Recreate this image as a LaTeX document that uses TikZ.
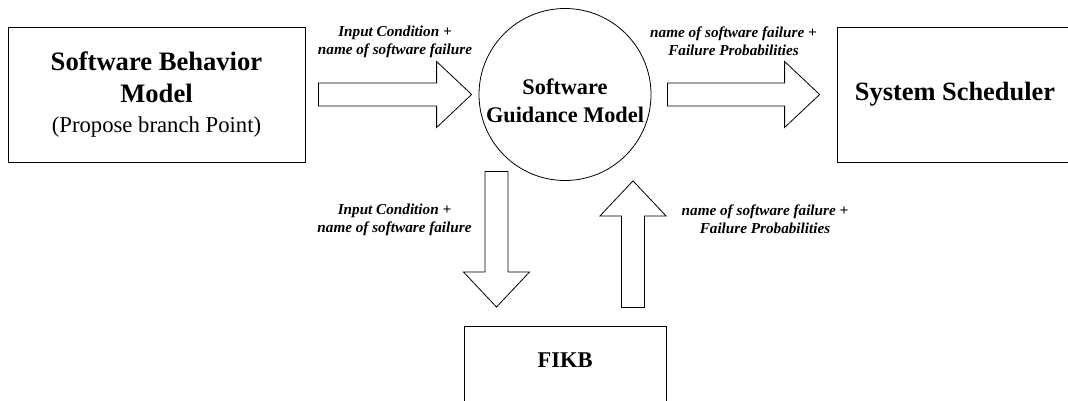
\documentclass[tikz,border=0pt]{standalone}
\usepackage{fontspec}
\setmainfont{Liberation Serif}
\usetikzlibrary{calc}

\tikzset{
  block/.style={draw, line width=0.8pt, inner sep=0pt, align=center},
  barrow/.style={draw, line width=0.8pt, fill=white, line join=miter},
  flowlabel/.style={font=\fontsize{15.2}{18}\selectfont\bfseries\itshape,
    align=center, inner sep=0pt}
}

% hollow block arrow from #1 (tail) to #2 (tip)
\newcommand{\blockarrow}[2]{%
  \coordinate (ahead) at ($(#2)!35pt!(#1)$);
  \draw [barrow] ($(#1)!11.5pt!90:(#2)$) -- ($(ahead)!11.5pt!90:(#2)$)
    -- ($(ahead)!33pt!90:(#2)$) -- (#2) -- ($(ahead)!33pt!-90:(#2)$)
    -- ($(ahead)!11.5pt!-90:(#2)$) -- ($(#1)!11.5pt!-90:(#2)$) -- cycle;}

\begin{document}
\begin{tikzpicture}[x=1pt, y=-1pt]
  \useasboundingbox (0,0) rectangle (1068,401);

  % Software behavior model
  \node [block, minimum width=297pt, minimum height=135pt,
    font=\fontsize{26.6}{30}\selectfont\bfseries] (sbm) at (156.5,94.5)
    {Software Behavior\\[2pt]Model\\\fontsize{22.7}{28}\selectfont\mdseries (Propose branch Point)};

  % Software guidance model
  \node [block, circle, minimum size=172pt, text height=57pt, text depth=0pt,
    font=\fontsize{22.3}{28}\selectfont\bfseries] (sgm) at (565,94.5)
    {Software\\Guidance Model};

  % System scheduler
  \node [block, minimum width=236pt, minimum height=135pt,
    font=\fontsize{26.4}{30}\selectfont\bfseries] (ss) at (955,94.5)
    {System Scheduler};

  % FIKB
  \node [block, minimum width=202pt, anchor=north, text height=41.5pt,
    text depth=52.5pt, font=\fontsize{22.5}{27}\selectfont\bfseries]
    (fikb) at (565,326) {FIKB};

  % Arrow ends
  \coordinate (t1) at ($(sbm.east)+(13,0)$);
  \coordinate (h1) at ($(sgm.west)+(-7,0)$);
  \coordinate (t2) at ($(sgm.east)+(16,0)$);
  \coordinate (h2) at ($(ss.west)+(-17,0)$);
  \coordinate (t3) at ($(sgm.south)+(-68.5,-9.5)$);
  \coordinate (h3) at ($(fikb.north)+(-68.5,-19)$);
  \coordinate (t4) at ($(fikb.north)+(68,-18.5)$);
  \coordinate (h4) at ($(sgm.south)+(68,0)$);

  % Block arrows
  \blockarrow{t1}{h1}
  \blockarrow{t2}{h2}
  \blockarrow{t3}{h3}
  \blockarrow{t4}{h4}

  % Labels
  \node [flowlabel] (l1) at ($(t1)!0.5!(h1)+(0,-53)$)
    {Input Condition +\\name of software failure};
  \node [flowlabel] (l2) at ($(t2)!0.5!(h2)+(-10,-53)$)
    {name of software failure +\\Failure Probabilities};
  \node [flowlabel] (l3) at ($(t3)!0.5!(h3)+(-102,-19.5)$)
    {Input Condition +\\name of software failure};
  \node [flowlabel] (l4) at ($(t4)!0.5!(h4)+(132,-24.5)$)
    {name of software failure +\\Failure Probabilities};
\end{tikzpicture}
\end{document}
